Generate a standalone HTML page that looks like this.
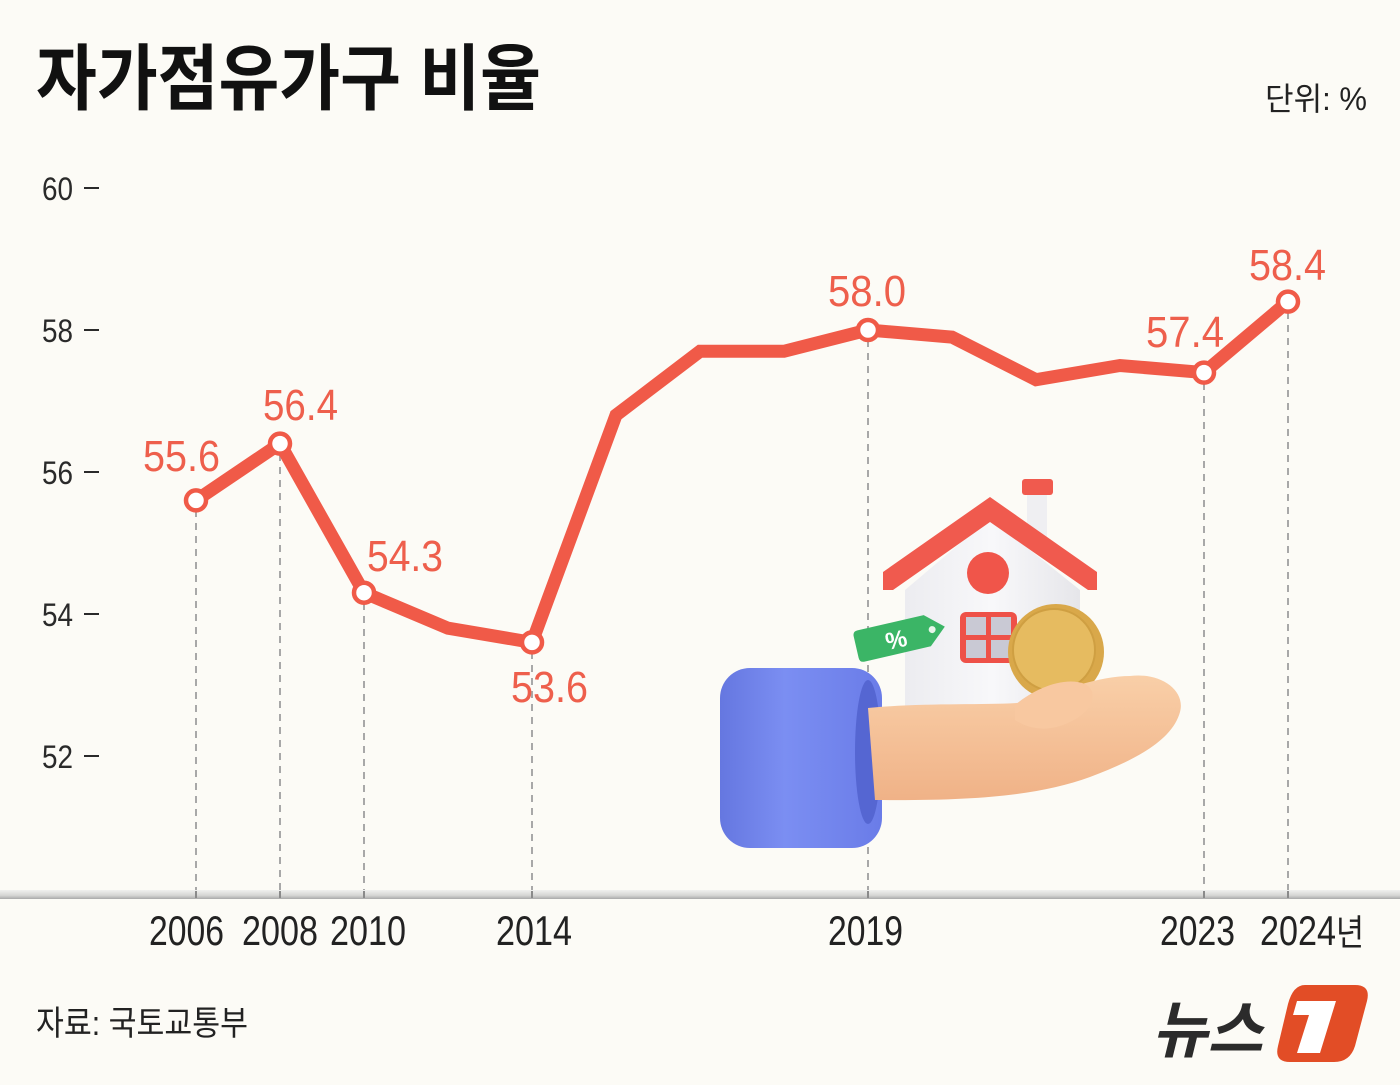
<!DOCTYPE html>
<html><head><meta charset="utf-8"><style>
html,body{margin:0;padding:0;background:#fcfbf6;}
svg{display:block;}
.n{font-family:"Liberation Sans Narrow","Liberation Sans",sans-serif;}
.k{font-family:"Liberation Sans","Noto Sans CJK KR",sans-serif;}
</style></head><body>
<svg width="1400" height="1085" viewBox="0 0 1400 1085" xmlns="http://www.w3.org/2000/svg">
<defs>
<linearGradient id="ax" x1="0" y1="0" x2="0" y2="1"><stop offset="0" stop-color="#f0f0ee"/><stop offset="0.6" stop-color="#d6d6d4"/><stop offset="1" stop-color="#a9a9a9"/></linearGradient>
<linearGradient id="cuff" x1="0" y1="0" x2="1" y2="0"><stop offset="0" stop-color="#6577e0"/><stop offset="0.4" stop-color="#7b8ef2"/><stop offset="1" stop-color="#6a7ce8"/></linearGradient>
<linearGradient id="skin" x1="0" y1="0" x2="0" y2="1"><stop offset="0" stop-color="#f9cfa8"/><stop offset="1" stop-color="#f0b287"/></linearGradient>
<linearGradient id="wall" x1="0" y1="0" x2="1" y2="0"><stop offset="0" stop-color="#ececf0"/><stop offset="0.5" stop-color="#f8f8fa"/><stop offset="1" stop-color="#e6e6ea"/></linearGradient>
</defs>
<rect width="1400" height="1085" fill="#fcfbf6"/>

<!-- title -->
<text x="36" y="104" class="k" font-size="72" font-weight="bold" fill="#111" textLength="505" lengthAdjust="spacingAndGlyphs">자가점유가구 비율</text>
<text x="1265" y="110" class="k" font-size="32" fill="#222" textLength="102" lengthAdjust="spacingAndGlyphs">단위: %</text>

<!-- y axis -->
<g class="n" font-size="32" fill="#2a2a2a">
<text x="42" y="200" textLength="31" lengthAdjust="spacingAndGlyphs">60</text>
<text x="42" y="342" textLength="31" lengthAdjust="spacingAndGlyphs">58</text>
<text x="42" y="484" textLength="31" lengthAdjust="spacingAndGlyphs">56</text>
<text x="42" y="626" textLength="31" lengthAdjust="spacingAndGlyphs">54</text>
<text x="42" y="768" textLength="31" lengthAdjust="spacingAndGlyphs">52</text>
</g>
<g stroke="#2a2a2a" stroke-width="2">
<line x1="84" y1="188" x2="99" y2="188"/><line x1="84" y1="330" x2="99" y2="330"/><line x1="84" y1="472" x2="99" y2="472"/><line x1="84" y1="614" x2="99" y2="614"/><line x1="84" y1="756" x2="99" y2="756"/>
</g>

<!-- dashed guides -->
<g stroke="#a8a8a8" stroke-width="2" stroke-dasharray="7 6">
<line x1="196" y1="510" x2="196" y2="898"/>
<line x1="280" y1="454" x2="280" y2="898"/>
<line x1="364" y1="603" x2="364" y2="898"/>
<line x1="532" y1="652" x2="532" y2="898"/>
<line x1="868" y1="340" x2="868" y2="898"/>
<line x1="1204" y1="383" x2="1204" y2="898"/>
<line x1="1288" y1="312" x2="1288" y2="898"/>
</g>

<!-- axis band -->
<rect x="0" y="890" width="1400" height="9" fill="url(#ax)"/>
<g stroke="#8a8a8a" stroke-width="2">
<line x1="196" y1="891" x2="196" y2="898"/><line x1="280" y1="891" x2="280" y2="898"/><line x1="364" y1="891" x2="364" y2="898"/><line x1="532" y1="891" x2="532" y2="898"/><line x1="868" y1="891" x2="868" y2="898"/><line x1="1204" y1="891" x2="1204" y2="898"/><line x1="1288" y1="891" x2="1288" y2="898"/>
</g>

<!-- x labels -->
<g class="n" font-size="42" fill="#222">
<text x="149" y="945" textLength="75" lengthAdjust="spacingAndGlyphs">2006</text>
<text x="242" y="945" textLength="76" lengthAdjust="spacingAndGlyphs">2008</text>
<text x="330" y="945" textLength="76" lengthAdjust="spacingAndGlyphs">2010</text>
<text x="496" y="945" textLength="76" lengthAdjust="spacingAndGlyphs">2014</text>
<text x="828" y="945" textLength="75" lengthAdjust="spacingAndGlyphs">2019</text>
<text x="1160" y="945" textLength="75" lengthAdjust="spacingAndGlyphs">2023</text>
<text x="1260" y="945" textLength="76" lengthAdjust="spacingAndGlyphs">2024</text>
</g>
<text x="1336" y="945" class="k" font-size="36" fill="#222" textLength="28" lengthAdjust="spacingAndGlyphs">년</text>

<!-- illustration -->
<g>
<!-- cuff -->
<rect x="720" y="668" width="162" height="180" rx="30" fill="url(#cuff)"/>
<ellipse cx="868" cy="752" rx="13" ry="72" fill="#5566d2"/>
<!-- house -->
<rect x="1027" y="488" width="20" height="50" fill="#efeff2"/>
<rect x="1022" y="479" width="31" height="16" rx="3" fill="#f05a4e"/>
<polygon points="905,590 990,518 1080,590 1080,707 905,707" fill="url(#wall)"/>
<polygon points="883,572 990,497 1097,572 1097,590 1088,590 990,522 893,590 883,590" fill="#f05a4e"/>
<circle cx="988" cy="573" r="21" fill="#f0554a"/>
<rect x="960" y="612" width="57" height="51" rx="6" fill="#ee5148"/>
<rect x="966" y="617" width="20" height="18" fill="#c9c9d4"/>
<rect x="991" y="617" width="20" height="18" fill="#c9c9d4"/>
<rect x="966" y="640" width="20" height="18" fill="#c9c9d4"/>
<rect x="991" y="640" width="20" height="18" fill="#c9c9d4"/>
<!-- coin -->
<circle cx="1056" cy="652" r="48" fill="#d9a84a"/>
<circle cx="1054" cy="650" r="41" fill="#e6bb60" stroke="#cf9f42" stroke-width="2"/>
<!-- tag -->
<g transform="rotate(-13 900 637)">
<path d="M860,621 L928,621 L946,637 L928,653 L860,653 Q855,653 855,648 L855,626 Q855,621 860,621 Z" fill="#3bb566"/>
<circle cx="933" cy="637" r="3.5" fill="#e8f5ea"/>
<text x="885" y="647" font-family="Liberation Sans,sans-serif" font-weight="bold" font-size="24" fill="#fff">%</text>
</g>
<!-- hand -->
<path d="M868,708 C930,702 990,706 1030,702 C1060,690 1100,676 1130,676 C1160,672 1186,690 1180,712 C1172,742 1130,762 1090,777 C1040,795 980,801 875,800 Z" fill="url(#skin)"/>
<path d="M1015,705 C1035,688 1065,676 1085,684 C1100,692 1092,712 1070,722 C1050,732 1030,730 1015,720 Z" fill="#f8c8a0"/>
</g>

<!-- data line -->
<polyline points="196,500.4 280,443.6 364,592.7 448,628.2 532,642.4 616,415.2 700,351.3 784,351.3 868,330 952,337.1 1036,379.7 1120,365.5 1204,372.6 1288,301.6" fill="none" stroke="#f05a48" stroke-width="13" stroke-linejoin="miter"/>
<g fill="#fff" stroke="#f05a48" stroke-width="4.5">
<circle cx="196" cy="500.4" r="10"/>
<circle cx="280" cy="443.6" r="10"/>
<circle cx="364" cy="592.7" r="10"/>
<circle cx="532" cy="642.4" r="10"/>
<circle cx="868" cy="330" r="10"/>
<circle cx="1204" cy="372.6" r="10"/>
<circle cx="1288" cy="301.6" r="10"/>
</g>

<!-- value labels -->
<g class="n" font-size="44" fill="#ee5f4c">
<text x="143" y="471" textLength="77" lengthAdjust="spacingAndGlyphs">55.6</text>
<text x="263" y="420" textLength="75" lengthAdjust="spacingAndGlyphs">56.4</text>
<text x="367" y="571" textLength="76" lengthAdjust="spacingAndGlyphs">54.3</text>
<text x="511" y="702" textLength="77" lengthAdjust="spacingAndGlyphs">53.6</text>
<text x="828" y="306" textLength="78" lengthAdjust="spacingAndGlyphs">58.0</text>
<text x="1146" y="347" textLength="78" lengthAdjust="spacingAndGlyphs">57.4</text>
<text x="1249" y="280" textLength="77" lengthAdjust="spacingAndGlyphs">58.4</text>
</g>

<!-- source -->
<text x="36" y="1035" class="k" font-size="34" fill="#222" textLength="212" lengthAdjust="spacingAndGlyphs">자료: 국토교통부</text>

<!-- logo -->
<text x="1152" y="1052" class="k" font-size="62" font-weight="bold" font-style="italic" fill="#2b2b2b" textLength="111" lengthAdjust="spacingAndGlyphs">뉴스</text>
<path d="M1305,985 L1355,985 Q1371,985 1367,1001 L1355,1046 Q1350,1062 1334,1062 L1290,1062 Q1274,1062 1278,1046 L1288,1004 Q1293,985 1305,985 Z" fill="#e24d26"/>
<polygon points="1297,1001 1336,1001 1320,1053 1297,1053 1309,1015 1293,1015" fill="#fff"/>
</svg>
</body></html>
